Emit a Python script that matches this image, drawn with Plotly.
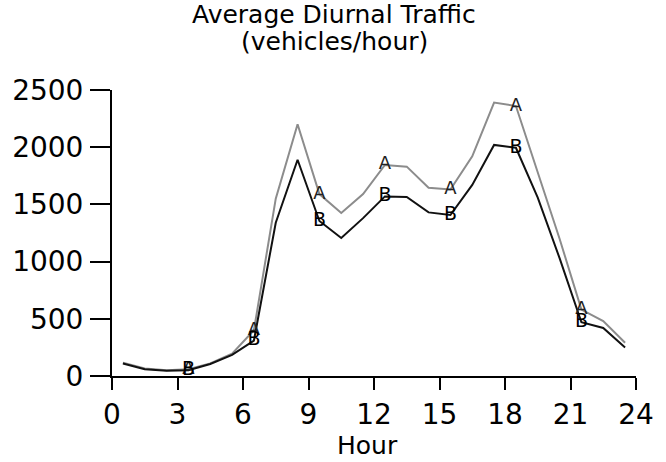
import plotly.graph_objects as go

# Hourly averages, sampled at the middle of each hour
hours = [h + 0.5 for h in range(24)]
route_a = [115, 65, 50, 60, 110, 195, 400, 1550, 2200, 1590, 1425, 1590,
           1845, 1830, 1645, 1630, 1920, 2390, 2360, 1780, 1200, 580, 480, 290]
route_b = [110, 60, 45, 50, 105, 185, 310, 1340, 1890, 1355, 1206, 1380,
           1570, 1565, 1430, 1407, 1670, 2020, 1995, 1560, 1030, 470, 420, 250]

# Letter markers every third hour (03:30, 06:30, ... 21:30)
mark_idx = list(range(3, 22, 3))
x_ticks = [0, 3, 6, 9, 12, 15, 18, 21, 24]
y_ticks = [0, 500, 1000, 1500, 2000, 2500]

FONT = "DejaVu Sans"

fig = go.Figure()
fig.add_trace(go.Scatter(x=hours, y=route_a, mode="lines",
                         line=dict(color="#8c8c8c", width=2), name="A"))
fig.add_trace(go.Scatter(x=hours, y=route_b, mode="lines",
                         line=dict(color="#111111", width=2), name="B"))
fig.add_trace(go.Scatter(x=[hours[i] for i in mark_idx],
                         y=[route_a[i] for i in mark_idx],
                         mode="text", text=["A"] * len(mark_idx),
                         textposition="middle center",
                         textfont=dict(family=FONT, size=18, color="#222222"),
                         cliponaxis=False))
fig.add_trace(go.Scatter(x=[hours[i] for i in mark_idx],
                         y=[route_b[i] for i in mark_idx],
                         mode="text", text=["B"] * len(mark_idx),
                         textposition="middle center",
                         textfont=dict(family=FONT, size=19, color="#000000"),
                         cliponaxis=False))

fig.update_layout(
    width=666, height=462,
    margin=dict(l=110, r=14, t=90, b=86),
    paper_bgcolor="white", plot_bgcolor="white",
    showlegend=False,
    font=dict(family=FONT, size=26, color="#000000"),
    xaxis=dict(range=[0, 24], tickvals=x_ticks, ticktext=[str(v) for v in x_ticks],
               showgrid=False, zeroline=False, showline=True,
               linecolor="#000000", linewidth=2,
               ticks="outside", ticklen=12, tickwidth=2, tickcolor="#000000",
               tickfont=dict(family=FONT, size=28), ticklabeloverflow="allow"),
    yaxis=dict(range=[0, 2500], tickvals=y_ticks, ticktext=[str(v) for v in y_ticks],
               showgrid=False, zeroline=False, showline=True,
               linecolor="#000000", linewidth=2,
               ticks="outside", ticklen=20, tickwidth=2, tickcolor="#000000",
               tickfont=dict(family=FONT, size=28), ticklabelstandoff=1,
               ticklabeloverflow="allow"),
    annotations=[
        dict(text="Average Diurnal Traffic", xref="paper", yref="paper",
             x=0.4244, y=1.2657, xanchor="center", yanchor="middle",
             showarrow=False, font=dict(family=FONT, size=25)),
        dict(text="(vehicles/hour)", xref="paper", yref="paper",
             x=0.4244, y=1.171, xanchor="center", yanchor="middle",
             showarrow=False, font=dict(family=FONT, size=25)),
        dict(text="Hour", xref="paper", yref="paper",
             x=0.4871, y=-0.243, xanchor="center", yanchor="middle",
             showarrow=False, font=dict(family=FONT, size=25)),
    ],
)

fig.write_html("out.html")
